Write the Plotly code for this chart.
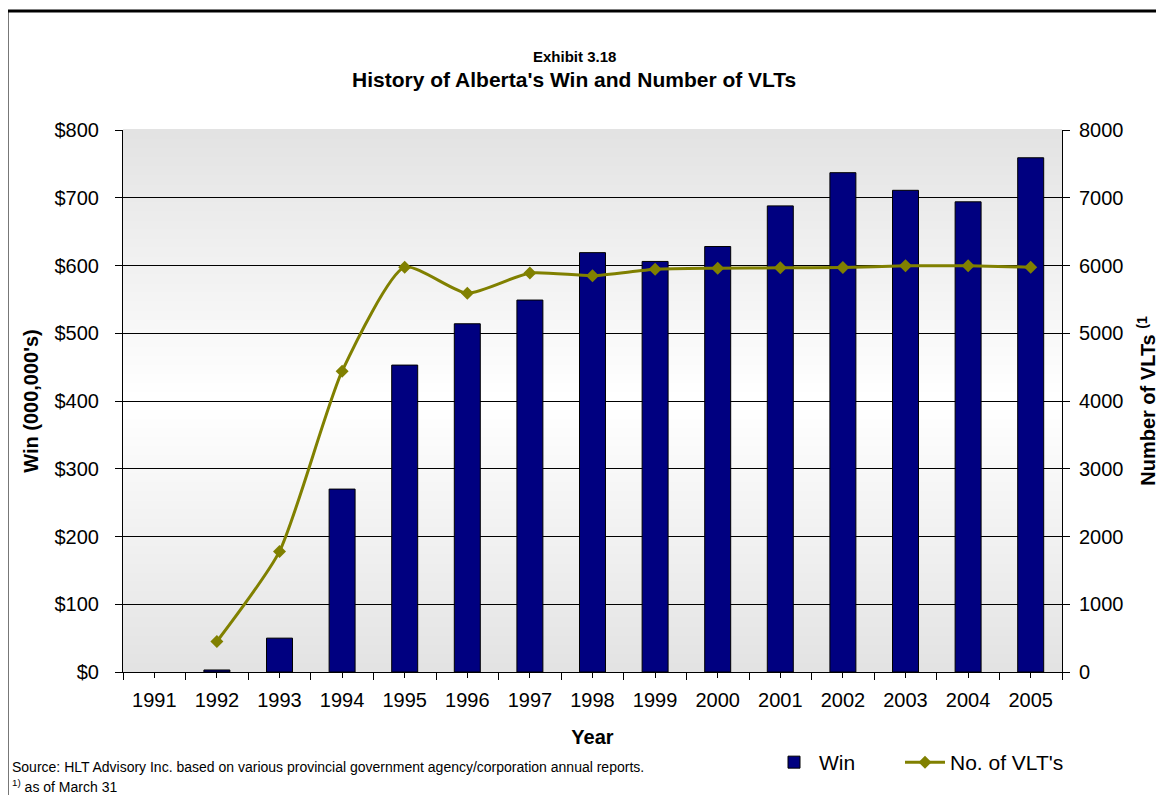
import plotly.graph_objects as go

years = [1991, 1992, 1993, 1994, 1995, 1996, 1997, 1998, 1999, 2000, 2001, 2002, 2003, 2004, 2005]
win = [None, 3, 50, 270, 453, 514, 549, 619, 606, 628, 688, 737, 711, 694, 759]
vlts = [None, 450, 1780, 4440, 5975, 5590, 5890, 5850, 5945, 5960, 5965, 5970, 5995, 5995, 5975]
win_ticks = [0, 100, 200, 300, 400, 500, 600, 700, 800]
vlt_ticks = [0, 1000, 2000, 3000, 4000, 5000, 6000, 7000, 8000]

FONT = "Liberation Sans, Arial, sans-serif"
fig = go.Figure()

fig.add_trace(go.Bar(
    x=years, y=win, name="Win",
    marker=dict(color="#000080", line=dict(color="#000000", width=1)),
    yaxis="y", legend="legend",
))
fig.add_trace(go.Scatter(
    x=years, y=vlts, name="No. of VLT's", mode="lines+markers",
    line=dict(color="#808000", width=3, shape="spline", smoothing=0.6),
    marker=dict(symbol="diamond", size=10, color="#808000"),
    yaxis="y2", legend="legend2",
))

# gradient background for plot area (gray top & bottom, white middle)
shapes = []
n = 60
def col(t):
    d = abs(t - 0.5) / 0.5
    v = int(round(255 - (255 - 227) * d))
    return f"rgb({v},{v},{v})"
for i in range(n):
    y0 = i / n
    y1 = (i + 1) / n
    shapes.append(dict(type="rect", xref="x domain", yref="y domain",
                       x0=0, x1=1, y0=y0, y1=y1 + 0.002,
                       fillcolor=col((y0 + y1) / 2), line=dict(width=0),
                       layer="below"))
# outer border
shapes.append(dict(type="rect", xref="paper", yref="paper",
                   x0=-0.1235, x1=1.3, y0=-0.4, y1=1.2196,
                   line=dict(color="black", width=3), fillcolor="rgba(0,0,0,0)"))

def px(x):
    return (x - 123) / 939

def py(y):
    return (672 - y) / 542

legend_common = dict(orientation="h", xanchor="left", yanchor="top",
                     font=dict(size=21), bgcolor="rgba(0,0,0,0)", itemwidth=40)

fig.update_layout(
    width=1156, height=787,
    margin=dict(l=115, r=102, t=122, b=123, autoexpand=False),
    paper_bgcolor="white", plot_bgcolor="rgba(0,0,0,0)",
    font=dict(family=FONT, size=20, color="black"),
    bargap=0.585,
    showlegend=True,
    legend=dict(x=px(769), y=py(742), **legend_common),
    legend2=dict(x=px(900), y=py(742), **legend_common),
    shapes=shapes,
    xaxis=dict(
        range=[1990.5, 2005.5], tickmode="array", tickvals=years,
        ticktext=[str(y) for y in years], automargin=False,
        ticks="outside", ticklen=5, tickcolor="black", ticklabelstandoff=5,
        showline=True, linecolor="black", linewidth=1, showgrid=False, zeroline=False,
        tickfont=dict(size=20),
        minor=dict(tickvals=[y + 0.5 for y in range(1990, 2006)], ticks="outside",
                   ticklen=7, tickcolor="black", showgrid=False),
        title=dict(text="<b>Year</b>", font=dict(size=20), standoff=19),
    ),
    yaxis=dict(
        range=[0, 800], tickmode="array", tickvals=win_ticks,
        ticktext=[f"${v}" for v in win_ticks], automargin=False,
        ticks="outside", ticklen=7, tickcolor="black", ticklabelstandoff=12,
        showline=True, linecolor="black", linewidth=1,
        showgrid=True, gridcolor="black", gridwidth=1, zeroline=False,
        tickfont=dict(size=20),
        title=dict(text="<b>Win (000,000's)</b>", font=dict(size=20), standoff=10),
    ),
    yaxis2=dict(
        range=[0, 8000], overlaying="y", side="right", automargin=False,
        tickmode="array", tickvals=vlt_ticks,
        ticks="outside", ticklen=7, tickcolor="black", ticklabelstandoff=5,
        showline=True, linecolor="black", linewidth=1,
        showgrid=False, zeroline=False,
        tickfont=dict(size=20),
        title=dict(text="<b>Number of VLTs <sup>(1</sup></b>", font=dict(size=20), standoff=18),
    ),
    annotations=[
        dict(text="<b>Exhibit 3.18</b>", xref="paper", yref="paper",
             x=px(574), y=py(56), xanchor="center", yanchor="middle",
             showarrow=False, font=dict(size=15)),
        dict(text="<b>History of Alberta's Win and Number of VLTs</b>", xref="paper", yref="paper",
             x=px(574), y=py(80), xanchor="center", yanchor="middle",
             showarrow=False, font=dict(size=21)),
        dict(text="Source: HLT Advisory Inc. based on various provincial government agency/corporation annual reports.",
             xref="paper", yref="paper", x=px(10), y=py(767),
             xanchor="left", yanchor="middle", showarrow=False, font=dict(size=14)),
        dict(text="<sup>1)</sup> as of March 31",
             xref="paper", yref="paper", x=px(10), y=py(786),
             xanchor="left", yanchor="middle", showarrow=False, font=dict(size=14)),
    ],
)

fig.write_html("out.html")
